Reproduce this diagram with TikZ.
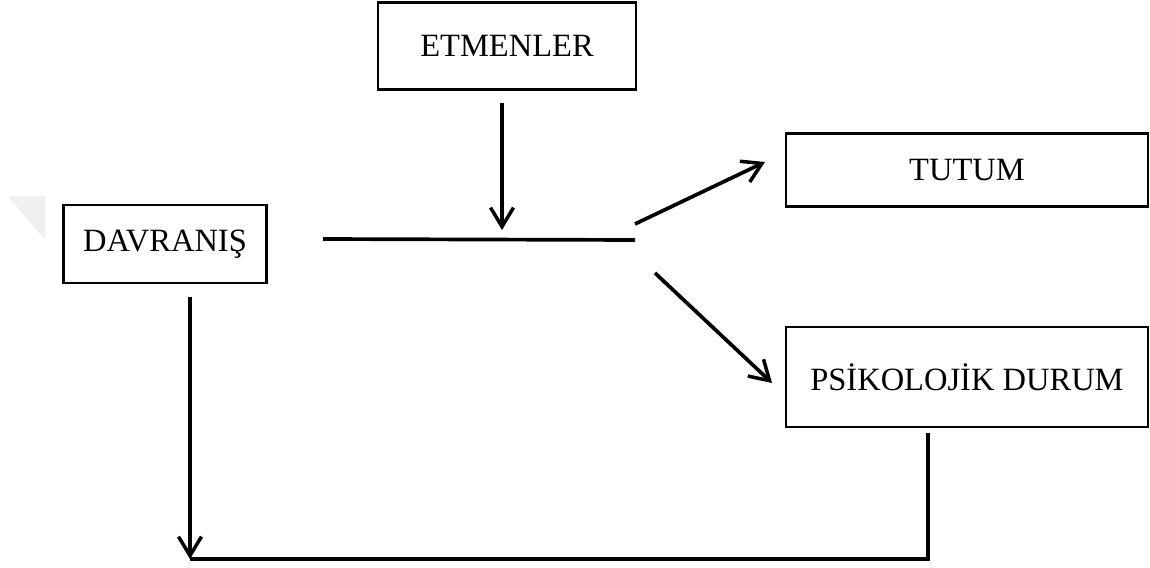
\documentclass[tikz,border=0pt]{standalone}
\usepackage{fontspec}
\setmainfont{Liberation Serif}
\usetikzlibrary{calc}
\usetikzlibrary{arrows.meta}

\tikzset{
  kutu/.style={draw, line width=1.5pt, inner sep=0pt,
    font=\fontsize{18.5}{22}\selectfont},
  cizgi/.style={line width=2.1pt},
  ok/.style={cizgi, -{Straight Barb[length=3.8mm,width=4.6mm,line width=2pt]}}
}

\begin{document}
\begin{tikzpicture}[x=0.02cm,y=-0.02cm]
\useasboundingbox (0,0) rectangle (1150,568);

% faint mark at left edge
\fill[color=gray!12] (8,196) -- (45,196) -- (45,240) -- cycle;

% boxes
\node[kutu, minimum width=5.16cm, minimum height=1.74cm] (etmen) at (507,46) {ETMENLER};
\node[kutu, minimum width=4.06cm, minimum height=1.56cm] (davranis) at (165,244) {DAVRANIŞ};
\node[kutu, minimum width=7.24cm, minimum height=1.46cm] (tutum) at (967,170) {TUTUM};
\node[kutu, minimum width=7.24cm, minimum height=2.0cm] (psi) at (967,377) {PSİKOLOJİK DURUM};

% middle line
\coordinate (hatsol) at (323,239);
\coordinate (hatsag) at (635,240);
\draw[cizgi] (hatsol) -- (hatsag);

% etmenler onto the line
\coordinate (etmenuc) at (502,230);
\draw[ok] ($(etmen.south)+(-5,12)$) -- (etmenuc);

% line to the two boxes
\coordinate (tutumuc) at (765,162);
\coordinate (psiuc) at (772,383);
\draw[ok] (635,224) -- (tutumuc);
\draw[ok] (655,273) -- (psiuc);

% feedback loop
\coordinate (kose) at (190,559);
\draw[cizgi] ($(psi.south)+(-39,5)$) |- (kose);
\draw[ok] ($(davranis.south)+(25,13)$) -- (kose);

\end{tikzpicture}
\end{document}
